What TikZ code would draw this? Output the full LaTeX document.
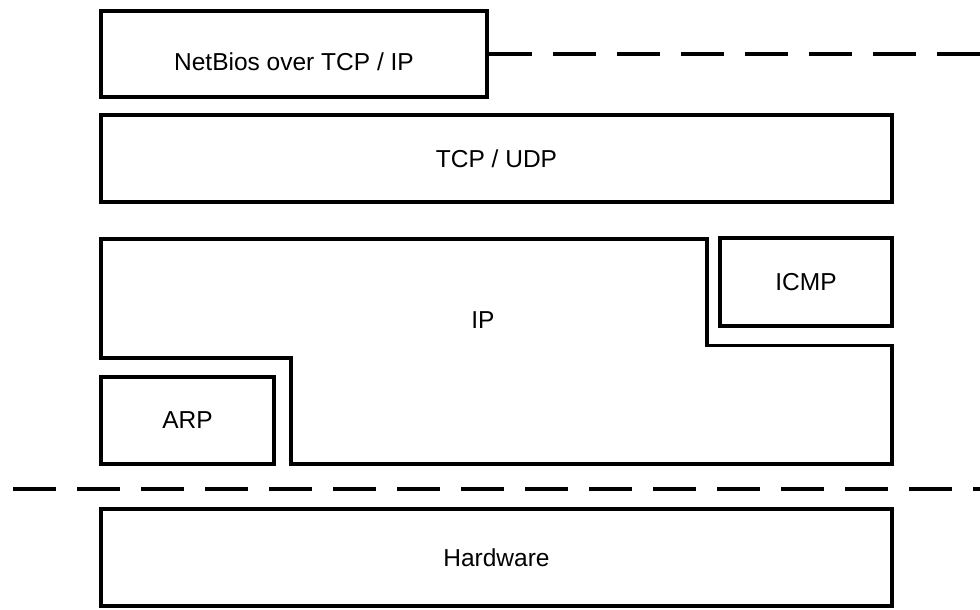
\documentclass[tikz,border=0pt]{standalone}
\usepackage{fontspec}
\setmainfont{Liberation Sans}
\tikzset{ layer/.style = { rectangle
                         , draw
                         , line width   = 3.3pt
                         , inner sep    = 0pt
                         , font         = \fontsize{24.5}{29}\selectfont
                         },
          cut/.style   = { draw = black
                         , line width   = 4pt
                         , dash pattern = on 43pt off 21pt
                         }
        }
\begin{document}
\begin{tikzpicture}[x=1pt, y=-1pt]
    \useasboundingbox (0,0) rectangle (980,610);
    % application layer
    \node[layer, minimum width=386pt, minimum height=86pt] (nb) at (294,54) {};
    \node[font=\fontsize{24.5}{29}\selectfont] (nbtext) at (294,62) {NetBios over TCP / IP};
    \coordinate (nbend) at (980,54);
    \draw[cut] (nb.east) -- (nbend);
    % transport
    \node[layer, minimum width=791pt, minimum height=87pt] (tcp) at (496.5,158.5) {TCP / UDP};
    % network
    \draw[line width=3.3pt] (101,239) -- (707,239) -- (707,345.5) -- (892,345.5)
        -- (892,464) -- (291,464) -- (291,358) -- (101,358) -- cycle;
    \node[font=\fontsize{24.5}{29}\selectfont] (ip) at (483,320) {IP};
    \node[layer, minimum width=172pt, minimum height=88pt] (icmp) at (806,282) {ICMP};
    \node[layer, minimum width=173pt, minimum height=87pt] (arp) at (187.5,420.5) {ARP};
    % separator
    \coordinate (cutl) at (13,489);
    \coordinate (cutr) at (980,489);
    \draw[cut] (cutl) -- (cutr);
    % hardware
    \node[layer, minimum width=791pt, minimum height=97pt] (hw) at (496.5,557.5) {Hardware};
\end{tikzpicture}
\end{document}
